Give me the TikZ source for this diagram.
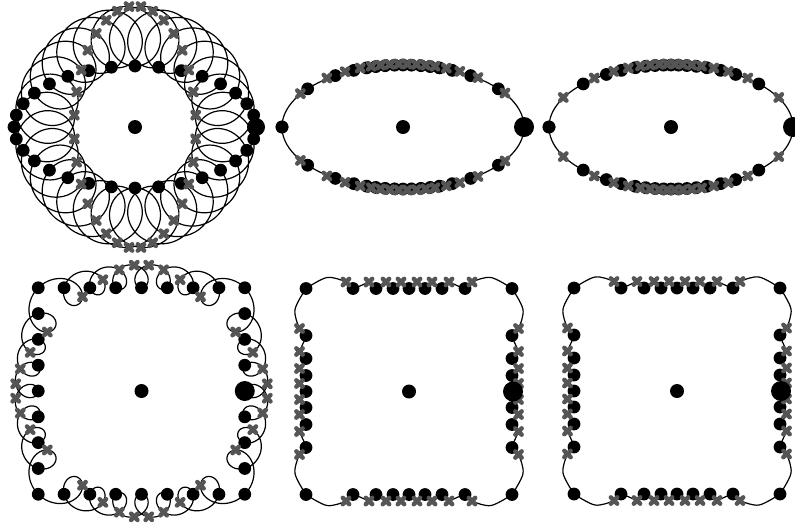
\documentclass[tikz,border=0pt]{standalone}
\usetikzlibrary{calc}
\definecolor{CrossGray}{RGB}{85,85,85}

\begin{document}
\begin{tikzpicture}[x=0.5pt, y=-0.5pt,
    curve/.style={black, line width=0.6pt},
    datadot/.style={fill=black},
    crossmark/.style={draw=CrossGray, line width=2.2pt, line cap=round},
    xmark/.pic={\draw[crossmark] (-3.2,-3.2) -- (3.2,3.2) (-3.2,3.2) -- (3.2,-3.2);},
    declare function={
      ringx(\t)=135+91*cos(\t)+30*cos(31*\t);
      ringy(\t)=127+91*sin(\t)+30*sin(31*\t);
      sqx(\t)=141.5+118.74*cos(\t)-5.134*cos(5*\t)+1.909*cos(9*\t)-1.246*cos(13*\t)
              +1.151*cos(17*\t)-1.466*cos(21*\t)+2.834*cos(25*\t)-13.538*cos(29*\t);
      sqy(\t)=391+118.74*sin(\t)-5.134*sin(5*\t)+1.909*sin(9*\t)-1.246*sin(13*\t)
              +1.151*sin(17*\t)-1.466*sin(21*\t)+2.834*sin(25*\t)-13.538*sin(29*\t);
    }
  ]
  \useasboundingbox (0,0) rectangle (795,527);

  % ellipse, looped interpolant
  \draw[curve] plot[domain=0:360, samples=1441] ({ringx(\x)},{ringy(\x)});
  \foreach \k in {0,...,31}
    \fill[datadot] ({ringx(11.25*\k)},{ringy(11.25*\k)}) circle (6.4);
  \foreach \k in {0,...,31}
    \pic at ({ringx(11.25*\k+5.625)},{ringy(11.25*\k+5.625)}) {xmark};
  \fill[datadot] (256,127) circle (9);
  \fill[datadot] (135,127) circle (7);

  % ellipse, first smooth version
  \draw[curve] (403,127) ellipse [x radius=121, y radius=62];
  \foreach \t in {0,38,56,66,72.5,77,81.5,86,90,94,98.5,103,107.5,114,124,142,180} {
    \fill[datadot] ({403+121*cos(\t)},{127-62*sin(\t)}) circle (6.4);
    \fill[datadot] ({403+121*cos(\t)},{127+62*sin(\t)}) circle (6.4);
  }
  \foreach \t in {32.6,51.7,62,69,74.7,79.2,83.7,88,92,96.2,100.7,105.2,110.7,118.6,129,148} {
    \pic at ({403+121*cos(\t)},{127-63*sin(\t)}) {xmark};
    \pic at ({403+121*cos(\t)},{127+63*sin(\t)}) {xmark};
  }
  \fill[datadot] (524,127) circle (10);
  \fill[datadot] (403,127) circle (7);

  % ellipse, second smooth version
  \draw[curve] (671,127) ellipse [x radius=122, y radius=62];
  \foreach \t in {0,44,58,66,73,78,82.5,86.5,90,93.5,97.5,102,107,114,122,136,180} {
    \fill[datadot] ({671+122*cos(\t)},{127-62*sin(\t)}) circle (6.4);
    \fill[datadot] ({671+122*cos(\t)},{127+62*sin(\t)}) circle (6.4);
  }
  \foreach \t in {28,51,62,69.5,75.5,80.2,84.5,88.2,91.8,95.5,99.8,104.5,110.5,118,129,152} {
    \pic at ({671+122*cos(\t)},{127-63*sin(\t)}) {xmark};
    \pic at ({671+122*cos(\t)},{127+63*sin(\t)}) {xmark};
  }
  \fill[datadot] (793,127) circle (10);
  \fill[datadot] (671,127) circle (7);

  % square, looped interpolant
  \draw[curve] plot[domain=0:360, samples=1441] ({sqx(\x)},{sqy(\x)});
  \foreach \k in {0,...,31}
    \fill[datadot] ({sqx(11.25*\k)},{sqy(11.25*\k)}) circle (6.4);
  \foreach \k in {0,...,31}
    \pic at ({sqx(11.25*\k+5.625)},{sqy(11.25*\k+5.625)}) {xmark};
  \fill[datadot] (244.75,391) circle (10);
  \fill[datadot] (141.5,391) circle (7);

  % square, smooth versions
  \foreach \cx/\cy in {409/391.5, 677/391} {
    \begin{scope}[shift={(\cx,\cy)}]
      \foreach \r in {0,90,180,270}
        \draw[curve, rotate=\r] plot[smooth, tension=0.55] coordinates {
          (-103,-103) (-82,-114) (-63,-109.5) (-56,-103) (-40,-109) (-33,-103)
          (-23,-109) (-16,-103) (-8,-109) (0,-103) (8,-109) (16,-103) (23,-109)
          (33,-103) (40,-109) (56,-103) (63,-109.5) (82,-114) (103,-103)};
      \foreach \r in {0,90,180,270} {
        \begin{scope}[rotate=\r]
          \foreach \d in {-103,-56,-33,-16,0,16,33,56}
            \fill[datadot] (\d,-103) circle (6.4);
          \foreach \d in {-63,-40,-23,-8,8,23,40,63}
            \pic at (\d,-109.5) {xmark};
        \end{scope}
      }
      \fill[datadot] (104,0) circle (10);
      \fill[datadot] (0,0) circle (7);
    \end{scope}
  }
\end{tikzpicture}
\end{document}
